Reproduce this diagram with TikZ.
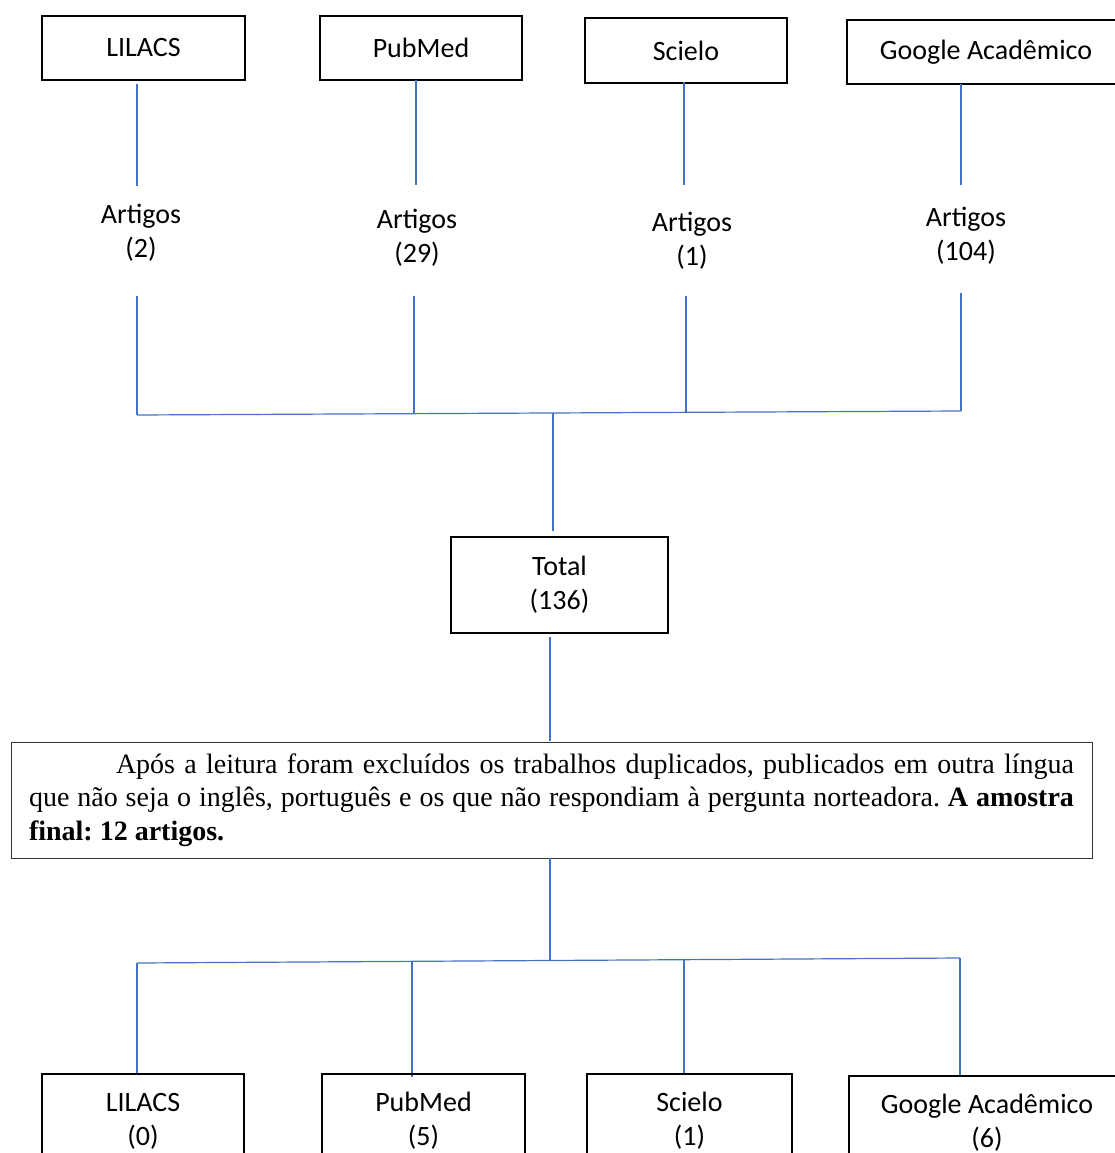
\documentclass[tikz,border=0pt]{standalone}
\usepackage{fontspec}
\setmainfont{Carlito}
\newfontfamily\timesf{Liberation Serif}
\definecolor{linkblue}{HTML}{4472C4}
\begin{document}
\begin{tikzpicture}[x=1pt,y=-1pt,
  dbbox/.style={draw=black,line width=1.8pt,inner sep=0pt,align=center,
    font=\fontsize{28}{34}\selectfont},
  lbl/.style={inner sep=0pt,align=center,font=\fontsize{28}{34}\selectfont},
  conn/.style={draw=linkblue,line width=1.2pt},
  txtbox/.style={draw=black!80,line width=1pt,inner xsep=18pt,inner ysep=0pt,
    text width=1045pt,align=justify,minimum height=116pt,
    font=\timesf\frenchspacing\fontsize{28}{33.5}\selectfont}]
\useasboundingbox (0,0) rectangle (1115,1153);
\clip (0,0) rectangle (1115,1153);

% top boxes
\node[dbbox,minimum width=203pt,minimum height=64pt] (t1) at (143.5,48) {LILACS};
\node[dbbox,minimum width=202pt,minimum height=64pt] (t2) at (421,48) {PubMed};
\node[dbbox,minimum width=202pt,minimum height=65pt] (t3) at (686,50.5) {Scielo};
\node[dbbox,minimum width=278pt,minimum height=64pt] (t4) at (986,52) {Google Acadêmico};

% article labels
\node[lbl] (a1) at (141,233) {Artigos\\(2)};
\node[lbl] (a2) at (417,238) {Artigos\\(29)};
\node[lbl] (a3) at (692,240.5) {Artigos\\(1)};
\node[lbl] (a4) at (966,236) {Artigos\\(104)};

% connector points, upper part
\coordinate (u1a) at (137,84);  \coordinate (u1b) at (137,186);
\coordinate (u2a) at (416,80);  \coordinate (u2b) at (416,185);
\coordinate (u3a) at (684,82);  \coordinate (u3b) at (684,185);
\coordinate (u4a) at (961,84);  \coordinate (u4b) at (961,185);
\coordinate (v1a) at (137,296); \coordinate (j1) at (137,415);
\coordinate (v2a) at (414,296); \coordinate (j2) at (414,413.7);
\coordinate (v3a) at (686,296); \coordinate (j3) at (686,412.3);
\coordinate (v4a) at (961,293); \coordinate (j4) at (961,411);
\coordinate (jm) at (553,413);  \coordinate (tin) at (553,531);

\draw[conn] (u1a) -- (u1b);
\draw[conn] (u2a) -- (u2b);
\draw[conn] (u3a) -- (u3b);
\draw[conn] (u4a) -- (u4b);
\draw[conn] (v1a) -- (j1);
\draw[conn] (v2a) -- (j2);
\draw[conn] (v3a) -- (j3);
\draw[conn] (v4a) -- (j4);
\draw[conn] (j1) -- (j4);
\draw[conn] (jm) -- (tin);

% total
\node[dbbox,minimum width=217pt,minimum height=96pt] (tot) at (559.5,585) {Total\\(136)};

% text box
\node[txtbox] (txt) at (551.5,800) {\hspace*{87pt}Após a leitura foram excluídos os trabalhos duplicados, publicados em outra língua\linebreak
que não seja o inglês, português e os que não respondiam à pergunta norteadora. \textbf{A amostra\linebreak
final: 12 artigos.}};

\coordinate (tout) at (550,637); \coordinate (xin) at (550,741);
\coordinate (xout) at (550,858); \coordinate (km) at (550,960);
\draw[conn] (tout) -- (xin);
\draw[conn] (xout) -- (km);

% lower distribution
\coordinate (k1) at (137,963);   \coordinate (w1) at (137,1073);
\coordinate (k2) at (412,961.3); \coordinate (w2) at (412,1077);
\coordinate (k3) at (684,959.7); \coordinate (w3) at (684,1075);
\coordinate (k4) at (960,958);   \coordinate (w4) at (960,1076);
\draw[conn] (k1) -- (k4);
\draw[conn] (k1) -- (w1);
\draw[conn] (k2) -- (w2);
\draw[conn] (k3) -- (w3);
\draw[conn] (k4) -- (w4);

% bottom boxes
\node[dbbox,minimum width=202pt,minimum height=94pt] (b1) at (143,1121) {LILACS\\(0)};
\node[dbbox,minimum width=203pt,minimum height=94pt] (b2) at (423.5,1121) {PubMed\\(5)};
\node[dbbox,minimum width=205pt,minimum height=94pt] (b3) at (689.5,1121) {Scielo\\(1)};
\node[dbbox,minimum width=276pt,minimum height=94pt] (b4) at (987,1123) {Google Acadêmico\\(6)};
\end{tikzpicture}
\end{document}
